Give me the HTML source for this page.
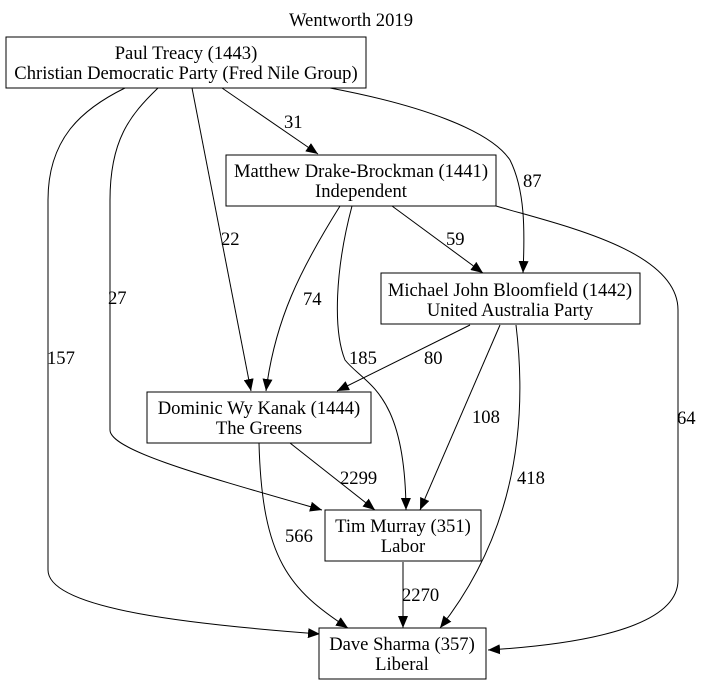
<!DOCTYPE html>
<html><head><style>
html,body{margin:0;padding:0;background:#fff;width:703px;height:685px;overflow:hidden}
text{font-family:"Liberation Serif",serif;font-size:18.6px;fill:#000}
</style></head><body>
<svg width="703" height="685" xmlns="http://www.w3.org/2000/svg">
<defs><marker id="a" markerWidth="12" markerHeight="10" refX="12" refY="5" orient="auto" markerUnits="userSpaceOnUse"><path d="M0,0 L12,5 L0,10 z" fill="#000"/></marker></defs>
<g fill="none" stroke="#000" stroke-width="1" marker-end="url(#a)">
<path d="M222,88 L318,154"/>
<path d="M330,88 C420,105 490,130 510,160 C525,190 525,230 523,273"/>
<path d="M192,88 L251,391"/>
<path d="M158,88 C130,115 110,140 110,200 L110,430 C110,450 200,475 322,510"/>
<path d="M125,88 C80,110 48,140 48,200 L48,570 C48,610 200,625 320,634"/>
<path d="M392,206 L483,273"/>
<path d="M340,206 C300,270 275,320 266,391"/>
<path d="M352,206 C335,270 333,330 345,360 C365,385 405,390 406,510"/>
<path d="M496,206 C560,225 678,250 678,310 L678,580 C678,630 570,645 488,650"/>
<path d="M470,325 L337,391"/>
<path d="M500,325 L420,510"/>
<path d="M516,325 C525,400 525,520 440,628"/>
<path d="M290,443 L375,510"/>
<path d="M259,443 C262,560 290,590 348,628"/>
<path d="M403,562 L403,628"/>
</g>
<g fill="#fff" stroke="#000" stroke-width="1">
<rect x="6" y="37" width="360" height="51"/>
<rect x="226" y="155" width="270" height="51"/>
<rect x="381" y="273" width="259" height="51"/>
<rect x="147" y="392" width="224" height="51"/>
<rect x="325" y="510" width="156" height="51"/>
<rect x="319" y="628" width="167" height="51"/>
</g>
<g text-anchor="middle">
<text x="351" y="26">Wentworth 2019</text>
<text x="186" y="59">Paul Treacy (1443)</text>
<text x="186" y="79">Christian Democratic Party (Fred Nile Group)</text>
<text x="361" y="177">Matthew Drake-Brockman (1441)</text>
<text x="361" y="197">Independent</text>
<text x="510" y="296">Michael John Bloomfield (1442)</text>
<text x="510" y="316">United Australia Party</text>
<text x="259" y="414">Dominic Wy Kanak (1444)</text>
<text x="259" y="434">The Greens</text>
<text x="403" y="532">Tim Murray (351)</text>
<text x="403" y="552">Labor</text>
<text x="402" y="650">Dave Sharma (357)</text>
<text x="402" y="670">Liberal</text>
</g>
<g>
<text x="284" y="128">31</text>
<text x="523" y="187">87</text>
<text x="221" y="245">22</text>
<text x="108" y="304">27</text>
<text x="47" y="364">157</text>
<text x="446" y="245">59</text>
<text x="303" y="305">74</text>
<text x="349" y="364">185</text>
<text x="677" y="424">64</text>
<text x="424" y="364">80</text>
<text x="472" y="423">108</text>
<text x="517" y="484">418</text>
<text x="340" y="484">2299</text>
<text x="285" y="542">566</text>
<text x="402" y="601">2270</text>
</g>
</svg>
</body></html>
